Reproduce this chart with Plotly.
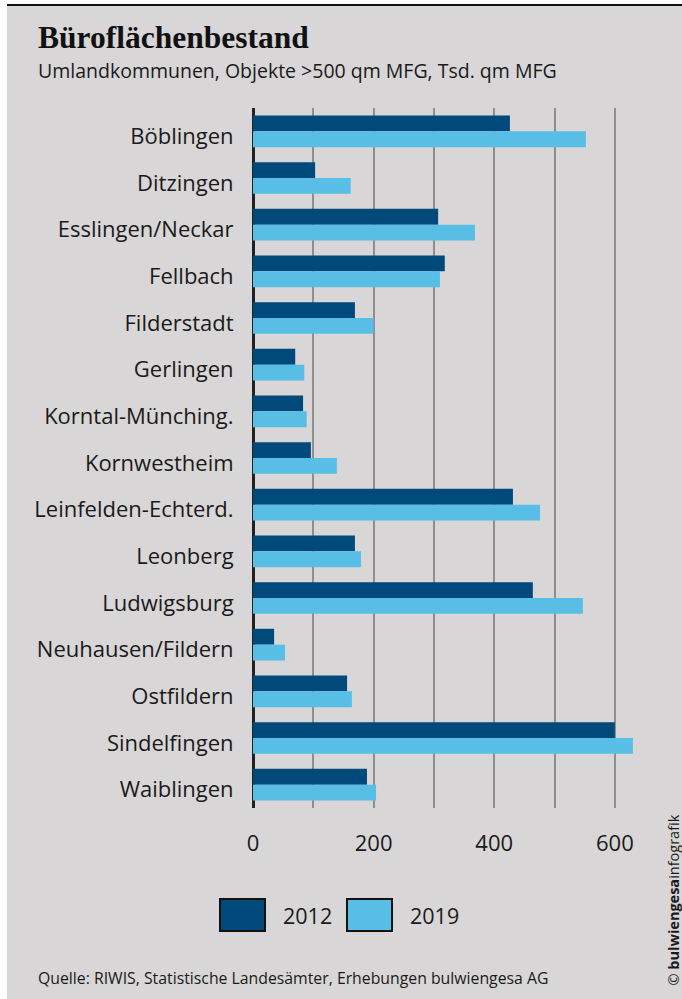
import plotly.graph_objects as go

# Daten (Tsd. qm MFG)
kommunen = ['Böblingen', 'Ditzingen', 'Esslingen/Neckar', 'Fellbach', 'Filderstadt',
            'Gerlingen', 'Korntal-Münching.', 'Kornwestheim', 'Leinfelden-Echterd.',
            'Leonberg', 'Ludwigsburg', 'Neuhausen/Fildern', 'Ostfildern',
            'Sindelfingen', 'Waiblingen']
werte_2012 = [426, 103, 307, 318, 169, 70, 83, 96, 431, 169, 464, 35, 156, 600, 189]
werte_2019 = [552, 162, 368, 310, 200, 85, 89, 139, 476, 179, 547, 53, 164, 630, 204]
jahre = ['2012', '2019']
tick_werte = [0, 200, 400, 600]

farben = {'2012': '#00497b', '2019': '#59bee5'}
hintergrund = '#d8d6d7'

W, H = 682, 999
L, R, T, B = 253, 37, 108, 191


def px_x(px):
    # Pixel -> paper-Koordinate (x)
    return (px - L) / (W - L - R)


def px_y(py):
    # Pixel -> paper-Koordinate (y)
    return (H - B - py) / (H - T - B)


fig = go.Figure()
for jahr, werte in zip(jahre, [werte_2012, werte_2019]):
    fig.add_trace(go.Bar(
        y=kommunen, x=werte, name=jahr, orientation='h',
        marker=dict(color=farben[jahr], line=dict(width=0)),
        showlegend=False,
    ))

fig.update_layout(
    width=W, height=H,
    margin=dict(l=L, r=R, t=T, b=B, pad=0),
    barmode='group', bargap=0.32, bargroupgap=0,
    paper_bgcolor=hintergrund, plot_bgcolor=hintergrund,
    font=dict(family='Open Sans', color='#1a1a1a', size=20),
)

fig.update_xaxes(
    range=[0, 650], tickvals=tick_werte, ticktext=[str(v) for v in tick_werte],
    showgrid=True, gridcolor='#8e8e8e', gridwidth=1.5,
    minor=dict(dtick=100, showgrid=True, gridcolor='#8e8e8e', gridwidth=1.5),
    zeroline=True, zerolinecolor='#222222', zerolinewidth=2.5,
    ticks='outside', ticklen=16, tickcolor='rgba(0,0,0,0)',
    tickfont=dict(size=22), fixedrange=True,
)
fig.update_yaxes(
    autorange='reversed', showgrid=False,
    ticks='outside', ticklen=14, tickcolor='rgba(0,0,0,0)',
    ticklabelshift=-5,
    tickfont=dict(size=22), fixedrange=True,
)

shapes = [
    # weisser Rand links und oben
    dict(type='rect', xref='paper', yref='paper', x0=px_x(0), x1=px_x(7),
         y0=px_y(999), y1=px_y(0), fillcolor='white', line=dict(width=0), layer='below'),
    dict(type='rect', xref='paper', yref='paper', x0=px_x(0), x1=px_x(682),
         y0=px_y(4), y1=px_y(0), fillcolor='white', line=dict(width=0), layer='below'),
    # schwarze Linie oben
    dict(type='line', xref='paper', yref='paper', x0=px_x(7), x1=px_x(682),
         y0=px_y(5), y1=px_y(5), line=dict(color='#111111', width=2)),
]

# Legende von Hand
legende_x = [(220, 281), (347, 408)]
for jahr, (bx, tx) in zip(jahre, legende_x):
    shapes.append(dict(type='rect', xref='paper', yref='paper',
                       x0=px_x(bx), x1=px_x(bx + 45), y0=px_y(931), y1=px_y(899),
                       fillcolor=farben[jahr], line=dict(color='#111111', width=2)))
    fig.add_annotation(x=px_x(tx), y=px_y(915), xref='paper', yref='paper',
                       text=jahr, showarrow=False, xanchor='left', yanchor='middle',
                       font=dict(size=21.5, color='#1a1a1a'))
fig.update_layout(shapes=shapes)

fig.add_annotation(x=px_x(36), y=px_y(38), xref='paper', yref='paper',
                   text='<b>Büroflächenbestand</b>', showarrow=False,
                   xanchor='left', yanchor='middle',
                   font=dict(family='Liberation Serif', size=31.5, color='#111111'))
fig.add_annotation(x=px_x(36), y=px_y(71), xref='paper', yref='paper',
                   text='Umlandkommunen, Objekte >500 qm MFG, Tsd. qm MFG', showarrow=False,
                   xanchor='left', yanchor='middle',
                   font=dict(size=19.5, color='#1a1a1a'))
fig.add_annotation(x=px_x(36), y=px_y(978), xref='paper', yref='paper',
                   text='Quelle: RIWIS, Statistische Landesämter, Erhebungen bulwiengesa AG',
                   showarrow=False, xanchor='left', yanchor='middle',
                   font=dict(size=15.8, color='#1a1a1a'))
fig.add_annotation(x=px_x(673), y=px_y(988), xref='paper', yref='paper',
                   text='© <b>bulwiengesa</b>infografik', showarrow=False, textangle=-90,
                   xanchor='center', yanchor='bottom',
                   font=dict(size=14.5, color='#1a1a1a'))

# Seitenrand des Browsers entfernen, ohne Werkzeugleiste
fig.write_html('out.html', config={'displayModeBar': False},
               post_script="document.body.style.margin='0px';")
